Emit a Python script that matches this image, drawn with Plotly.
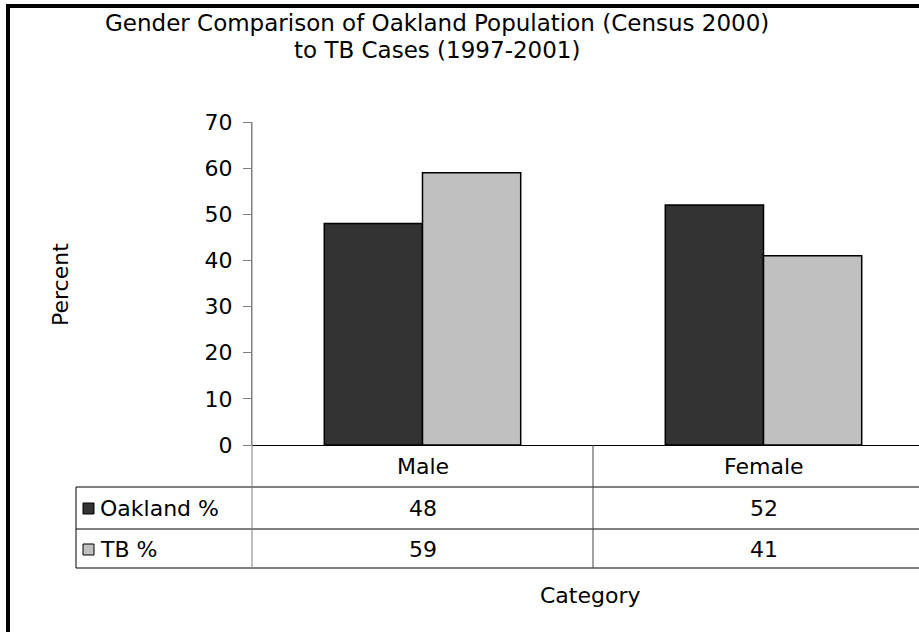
import plotly.graph_objects as go

# Chart data
categories = ["Male", "Female"]
series_names = ["Oakland %", "TB %"]
oakland_pct = [48, 52]
tb_pct = [59, 41]
y_ticks = [0, 10, 20, 30, 40, 50, 60, 70]
title_lines = ["Gender Comparison of Oakland Population (Census 2000)",
               "to TB Cases (1997-2001)"]

# Styling
bar_colors = ["#333333", "#c0c0c0"]
FONT = "DejaVu Sans"
FIG_W, FIG_H = 919, 632
L, R, T, B = 252, 0, 122, 187          # margins in px
PW, PH = FIG_W - L - R, FIG_H - T - B  # plot area size in px
CAT_W = 341                            # px per category slot
x_range = [-0.5, -0.5 + PW / CAT_W]


def px_x(px):
    """Convert a page x pixel into paper units."""
    return (px - L) / PW


def px_y(py):
    """Convert a page y pixel into paper units."""
    return (FIG_H - B - py) / PH


def cat_x(val):
    """Category-axis position in paper units."""
    return (val - x_range[0]) / (x_range[1] - x_range[0])


fig = go.Figure()
for name, vals, col in zip(series_names, [oakland_pct, tb_pct], bar_colors):
    fig.add_trace(go.Bar(
        x=categories, y=vals, name=name,
        marker=dict(color=col, line=dict(color="black", width=1.5)),
        showlegend=False,
    ))

shapes = []
line_k = dict(color="black", width=1)
# data-table grid below the plot
row_lines = [487, 529, 568]
for py in row_lines:
    shapes.append(dict(type="line", xref="paper", yref="paper",
                       x0=px_x(76), x1=1.0, y0=px_y(py), y1=px_y(py), line=line_k))
# left edge of the series rows
shapes.append(dict(type="line", xref="paper", yref="paper",
                   x0=px_x(76), x1=px_x(76), y0=px_y(487), y1=px_y(568), line=line_k))
# divider between the two categories
shapes.append(dict(type="line", xref="paper", yref="paper",
                   x0=cat_x(0.5), x1=cat_x(0.5), y0=0, y1=px_y(568),
                   line=dict(color="#444444", width=1)))
# value axis line continued down through the table
shapes.append(dict(type="line", xref="paper", yref="paper",
                   x0=0, x1=0, y0=1, y1=px_y(568),
                   line=dict(color="#808080", width=1)))
# legend keys in the table
row_centers = [508, 549]
for py, col in zip(row_centers, bar_colors):
    shapes.append(dict(type="rect", xref="paper", yref="paper",
                       x0=px_x(83), x1=px_x(94), y0=px_y(py - 5), y1=px_y(py + 6),
                       fillcolor=col, line=dict(color="black", width=1)))
# outer chart frame (top and left edges)
shapes.append(dict(type="line", xref="paper", yref="paper",
                   x0=px_x(8), x1=px_x(FIG_W + 10), y0=px_y(6), y1=px_y(6),
                   line=dict(color="black", width=4)))
shapes.append(dict(type="line", xref="paper", yref="paper",
                   x0=px_x(8), x1=px_x(8), y0=px_y(4), y1=px_y(FIG_H + 10),
                   line=dict(color="black", width=4)))

annotations = []
txt_font = dict(family=FONT, size=22, color="black")
# two-line chart title
for line, py in zip(title_lines, [23, 50]):
    annotations.append(dict(text=line, xref="paper", yref="paper", x=px_x(437), y=px_y(py),
                            showarrow=False, xanchor="center", yanchor="middle",
                            font=dict(family=FONT, size=23, color="black")))
# category header row
for i, cat in enumerate(categories):
    annotations.append(dict(text=cat, xref="x", yref="paper", x=i, y=px_y(466),
                            showarrow=False, font=txt_font, xanchor="center", yanchor="middle"))
# series rows
for py, name, vals in zip(row_centers, series_names, [oakland_pct, tb_pct]):
    annotations.append(dict(text=name, xref="paper", yref="paper", x=px_x(98), y=px_y(py),
                            showarrow=False, font=txt_font, xanchor="left", yanchor="middle"))
    for i, v in enumerate(vals):
        annotations.append(dict(text=str(v), xref="x", yref="paper", x=i, y=px_y(py),
                                showarrow=False, font=txt_font, xanchor="center", yanchor="middle"))
# axis titles
annotations.append(dict(text="Category", xref="paper", yref="paper", x=px_x(590), y=px_y(595),
                        showarrow=False, font=txt_font, xanchor="center", yanchor="middle"))
annotations.append(dict(text="Percent", xref="paper", yref="paper", x=px_x(60), y=px_y(285),
                        showarrow=False, font=txt_font, textangle=-90,
                        xanchor="center", yanchor="middle"))

fig.update_layout(
    width=FIG_W, height=FIG_H,
    margin=dict(l=L, r=R, t=T, b=B, autoexpand=False),
    paper_bgcolor="white", plot_bgcolor="white",
    barmode="group", bargap=0.424, bargroupgap=0,
    xaxis=dict(range=x_range, showticklabels=False, showgrid=False, zeroline=False,
               showline=False, ticks=""),
    yaxis=dict(range=[0, 70], tickvals=y_ticks, showgrid=False,
               showline=True, linecolor="#808080", linewidth=1,
               ticks="outside", ticklen=8, tickcolor="#808080",
               zeroline=True, zerolinecolor="black", zerolinewidth=1,
               tickfont=dict(family=FONT, size=22, color="black"),
               ticklabelstandoff=6),
    shapes=shapes,
    annotations=annotations,
)

fig.write_html("out.html")
